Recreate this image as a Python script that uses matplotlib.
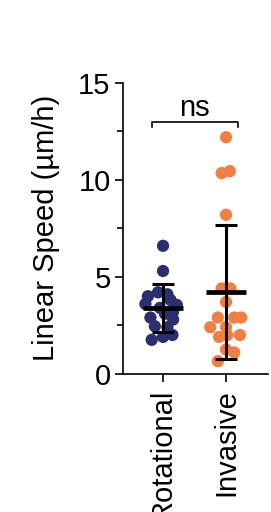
import numpy as np
import matplotlib
matplotlib.use("Agg")
import matplotlib.pyplot as plt

plt.rcParams['font.family'] = ['Liberation Sans', 'DejaVu Sans']

groups = ["Rotational", "Invasive"]
colors = ["#2b2f70", "#f07f45"]

# values (µm/h) and horizontal jitter (in category units)
rot_vals = [6.6, 5.3, 4.2, 4.1, 4.0, 3.8, 3.6, 3.55, 3.4, 3.2, 3.1, 2.9, 2.8, 2.45, 2.4, 2.0, 1.9, 1.75]
rot_jit = [0.0, 0.0, -0.08, 0.07, -0.24, 0.12, -0.28, 0.22, -0.05, 0.16, 0.03, -0.2, 0.16, -0.13, 0.07, 0.15, 0.0, -0.18]
inv_vals = [12.2, 10.45, 10.35, 8.2, 4.4, 4.4, 4.4, 3.7, 2.9, 2.9, 2.9, 2.4, 2.4, 2.0, 2.0, 1.9, 1.25, 1.1, 0.65]
inv_jit = [0.0, 0.06, -0.07, 0.0, 0.0, -0.07, 0.07, 0.0, -0.13, 0.13, 0.24, -0.25, 0.0, 0.02, 0.22, -0.11, 0.0, 0.13, -0.13]

data = [(rot_vals, rot_jit), (inv_vals, inv_jit)]

fig = plt.figure(figsize=(2.71, 5.12), dpi=100)
ax = fig.add_axes([0.454, 0.270, 0.535, 0.568])

for i, (vals, jit) in enumerate(data):
    vals = np.array(vals)
    ax.scatter(i + np.array(jit), vals, s=78, color=colors[i], edgecolors='none', zorder=2)
    m = vals.mean()
    sd = vals.std(ddof=1)
    ax.plot([i - 0.32, i + 0.32], [m, m], color='black', lw=3.4, zorder=3, solid_capstyle='butt')
    ax.plot([i, i], [m - sd, m + sd], color='black', lw=2.2, zorder=3)
    for y in (m - sd, m + sd):
        ax.plot([i - 0.17, i + 0.17], [y, y], color='black', lw=2.2, zorder=3, solid_capstyle='butt')

# significance bracket
ax.plot([-0.17, -0.17, 1.19, 1.19], [12.75, 13.0, 13.0, 12.75], color='black', lw=1.2, clip_on=False)
ax.text(0.5, 13.0, "ns", ha='center', va='bottom', fontsize=21)

ax.set_xlim(-0.635, 1.667)
ax.set_ylim(0, 15)
ax.set_yticks([0, 5, 10, 15])
ax.set_yticks([2.5, 7.5, 12.5], minor=True)
ax.set_xticks([0, 1])
ax.set_xticklabels(groups, rotation=90, fontsize=21)
ax.tick_params(axis='y', labelsize=21, width=1.2, length=6, pad=3)
ax.tick_params(axis='y', which='minor', width=1.2, length=4)
ax.tick_params(axis='x', width=1.2, length=6, pad=5)
ax.set_ylabel("Linear Speed (µm/h)", fontsize=21, labelpad=13)
for s in ('top', 'right'):
    ax.spines[s].set_visible(False)
for s in ('left', 'bottom'):
    ax.spines[s].set_linewidth(1.2)

fig.savefig("out.png", dpi=100)
